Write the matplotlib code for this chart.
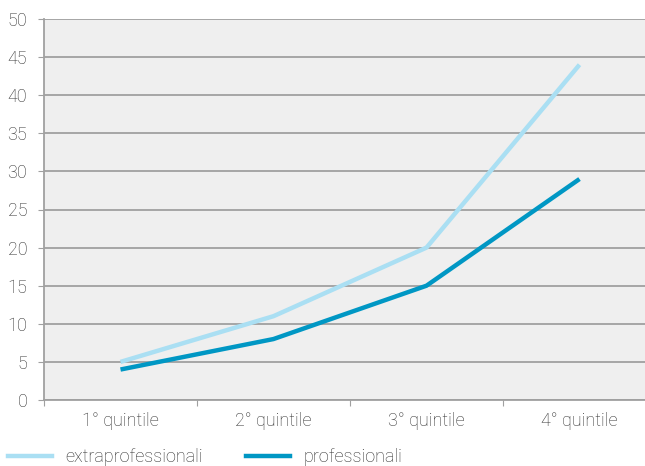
import matplotlib.pyplot as plt
from matplotlib.lines import Line2D

quintili = ['1° quintile', '2° quintile', '3° quintile', '4° quintile']
extraprofessionali = [5, 11, 20, 44]
professionali = [4, 8, 15, 29]

plt.rcParams['font.family'] = ['Roboto', 'DejaVu Sans']
plt.rcParams['font.weight'] = 'light'

fig = plt.figure(figsize=(6.45, 4.66), dpi=100)
ax = fig.add_axes([44 / 645, 66 / 466, 612 / 645, 381 / 466])
ax.set_facecolor('#efefef')

x = [0.5, 1.5, 2.5, 3.5]
ax.plot(x, extraprofessionali, color='#aadff3', lw=3.2, solid_capstyle='butt', zorder=3)
ax.plot(x, professionali, color='#0097c4', lw=3.2, solid_capstyle='butt', zorder=3)

ax.set_xlim(0, 4)
ax.set_ylim(0, 50)
ax.set_yticks(range(0, 51, 5))
ax.set_xticks([0, 1, 2, 3])
ax.set_xticks(x, minor=True)
ax.set_xticklabels([])
ax.set_xticklabels(quintili, minor=True)
ax.tick_params(axis='x', which='minor', length=0, pad=9)
ax.tick_params(axis='x', which='major', length=4, color='#a0a0a0')
ax.tick_params(axis='y', length=4, color='#a0a0a0', pad=8)
ax.tick_params(which='both', labelsize=13, labelcolor='#2e2e2e')
ax.grid(axis='y', color='#a0a0a0', lw=1.3)
ax.set_axisbelow(True)
for side in ['top', 'right']:
    ax.spines[side].set_visible(False)
for side in ['left', 'bottom']:
    ax.spines[side].set_color('#a0a0a0')
    ax.spines[side].set_linewidth(1.3)

# legenda in basso, fuori dal riquadro
handles = [Line2D([], [], color='#aadff3', lw=3.2),
           Line2D([], [], color='#0097c4', lw=3.2)]
fig.legend(handles, ['extraprofessionali', 'professionali'], loc='center left',
           bbox_to_anchor=(8 / 645, 8.5 / 466), ncol=2, frameon=False, fontsize=13,
           borderpad=0, borderaxespad=0, handlelength=2.45, handletextpad=0.72,
           columnspacing=2.4, labelcolor='#2e2e2e')

plt.savefig('out.png')
